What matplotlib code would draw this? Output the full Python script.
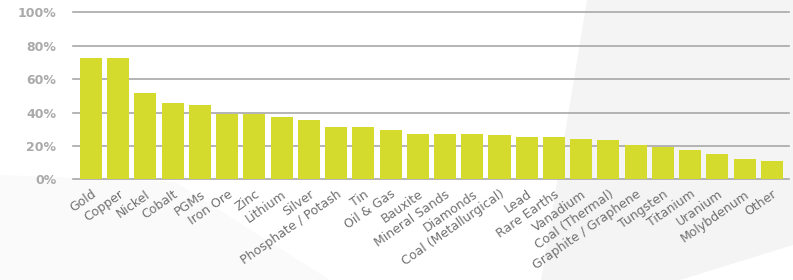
import matplotlib
matplotlib.use("Agg")
import matplotlib.pyplot as plt
from matplotlib.patches import Polygon

categories = ["Gold", "Copper", "Nickel", "Cobalt", "PGMs", "Iron Ore", "Zinc",
              "Lithium", "Silver", "Phosphate / Potash", "Tin", "Oil & Gas",
              "Bauxite", "Mineral Sands", "Diamonds", "Coal (Metallurgical)",
              "Lead", "Rare Earths", "Vanadium", "Coal (Thermal)",
              "Graphite / Graphene", "Tungsten", "Titanium", "Uranium",
              "Molybdenum", "Other"]
values = [72.6, 72.6, 51.7, 45.7, 44.5, 39.1, 39.1, 37.3, 35.5, 31.3, 31.3, 29.5,
          27.1, 27.1, 27.1, 26.5, 25.3, 25.3, 24.1, 23.5, 20.5, 19.3, 17.5, 15.1,
          12.1, 11.0]
yticks = [0, 20, 40, 60, 80, 100]
ytick_labels = ["0%", "20%", "40%", "60%", "80%", "100%"]

plt.rcParams['font.family'] = ['DejaVu Sans']

W, H = 793, 280
fig = plt.figure(figsize=(W / 100, H / 100), dpi=100)
fig.patch.set_facecolor("white")

# faint background shapes, in a full-figure axes behind the chart
bg = fig.add_axes([0, 0, 1, 1], zorder=-1)
bg.set_xlim(0, W)
bg.set_ylim(H, 0)
bg.axis("off")
bg.add_patch(Polygon([(587, 0), (W, 0), (W, 245), (680, H), (541, H)],
                     facecolor="#f4f4f4", edgecolor="none"))
bg.add_patch(Polygon([(0, 175), (175, 182), (330, H), (0, H)],
                     facecolor="#fafafa", edgecolor="none"))

ax = fig.add_axes([73 / W, 1 - 179.3 / H, (789 - 73) / W, (179.3 - 12.3) / H])
ax.set_facecolor("none")

x = range(len(categories))
for t in yticks:
    ax.axhline(t, color="#a8a8a8", lw=1.2, zorder=1, clip_on=False)
ax.bar(x, values, width=0.81, color="#d4db2d", zorder=2)

ax.set_xlim(-0.66, len(categories) - 1 + 0.63)
ax.set_ylim(0, 100)
ax.set_yticks(yticks)
ax.set_yticklabels(ytick_labels, fontsize=9, fontweight="bold", color="#aaaaaa")
ax.set_xticks(list(x))
ax.set_xticklabels(categories, rotation=35, ha="right", rotation_mode="anchor",
                   fontsize=9, color="#707070")
ax.tick_params(axis="y", length=0, pad=12)
ax.tick_params(axis="x", length=0, pad=6)
for s in ax.spines.values():
    s.set_visible(False)

fig.savefig("out.png", dpi=100)
